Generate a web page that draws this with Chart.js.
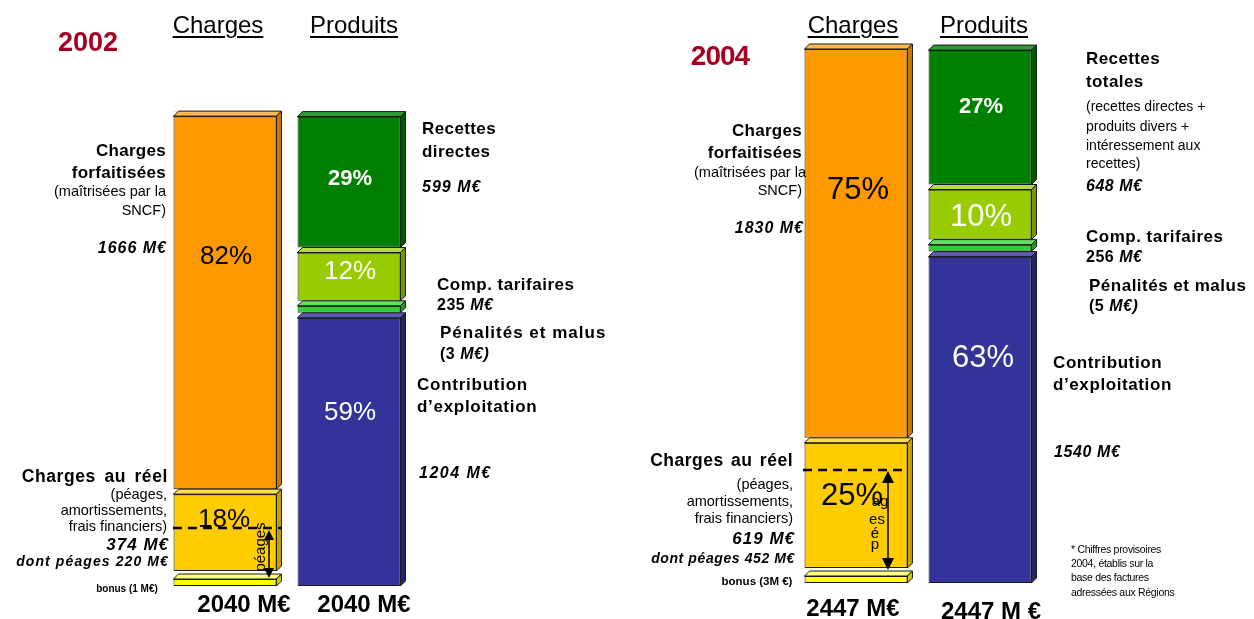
<!DOCTYPE html>
<html><head><meta charset="utf-8">
<script src="https://cdn.jsdelivr.net/npm/chart.js@4.4.1/dist/chart.umd.min.js"></script>
<style>
html,body{margin:0;padding:0;background:#fff;}
#wrap{position:relative;width:1254px;height:619px;overflow:hidden;font-family:"Liberation Sans",Arial,sans-serif;}
canvas{position:absolute;left:0;top:0;}
svg{position:absolute;left:0;top:0;}
.t{position:absolute;white-space:nowrap;line-height:1;color:#000;}
</style></head>
<body><div id="wrap">
<canvas id="c2002" width="1254" height="619"></canvas>
<canvas id="c2004" width="1254" height="619"></canvas>
<svg width="1254" height="619" viewBox="0 0 1254 619">
  <line x1="173" y1="528" x2="281" y2="528" stroke="#000" stroke-width="2.5" stroke-dasharray="9,6"/>
  <line x1="269" y1="536" x2="269" y2="572" stroke="#000" stroke-width="1.5"/>
  <polygon points="269,530 264,540 274,540" fill="#000"/>
  <polygon points="269,578 264,568 274,568" fill="#000"/>
  <text x="259" y="547" font-family="Liberation Sans, Arial" font-size="15" text-anchor="middle" dominant-baseline="central" transform="rotate(-90 259 547)">péages</text>
  <line x1="803" y1="470" x2="906" y2="470" stroke="#000" stroke-width="2.5" stroke-dasharray="9,6"/>
  <line x1="888" y1="478" x2="888" y2="562" stroke="#000" stroke-width="1.5"/>
  <polygon points="888,471 882,483 894,483" fill="#000"/>
  <polygon points="888,570 882,558 894,558" fill="#000"/>
</svg>
</div>
<script>
// ---- data (M€) ----
const years = ['2002', '2004'];
const barLabels = ['Charges', 'Produits'];
const chargesBonus = [1, 3];
const chargesReel = [374, 619];
const chargesForfait = [1666, 1830];
const produitsContribution = [1204, 1540];
const produitsPenalites = [3, 5];
const produitsComp = [235, 256];
const produitsRecettes = [599, 648];
const totalCharges = [2040, 2447];
const totalProduits = [2040, 2447];
const pctForfait = ['82%', '75%'];
const pctReel = ['18%', '25%'];
const pctRecettes = ['29%', '27%'];
const pctComp = ['12%', '10%'];
const pctContribution = ['59%', '63%'];
const peagesReel = [220, 452];

// ---- styles ----
const segStyles = {
  bonus:   {front:'#FFFF00', top:'#FFFF80', side:'#CCCC00'},
  reel:    {front:'#FFCC00', top:'#FFDB4D', side:'#C9A000', gapBelow:3},
  forfait: {front:'#FF9900', top:'#FFB84D', side:'#C87800'},
  contrib: {front:'#333399', top:'#5B5BB0', side:'#24246E'},
  penal:   {front:'#33CC33', top:'#66DD66', side:'#249924'},
  comp:    {front:'#99CC00', top:'#B5DD40', side:'#739900'},
  recettes:{front:'#008000', top:'#339933', side:'#005A00'}
};
const DEPTH = 5;

const bar3d = {
  id: 'bar3d',
  afterDatasetDraw(chart, args) {
    const ds = chart.data.datasets[args.index];
    const st = segStyles[ds.seg];
    const ctx = chart.ctx;
    args.meta.data.forEach((el, i) => {
      const v = ds.data[i];
      if (v === null || v === undefined) return;
      const p = el.getProps(['x', 'y', 'base', 'width'], true);
      const l = p.x - p.width / 2, r = p.x + p.width / 2, d = DEPTH;
      const top = Math.min(p.y, p.base);
      let bot = Math.max(p.y, p.base);
      ctx.save();
      ctx.fillStyle = '#fff';
      ctx.fillRect(l - 1, top, r - l + 2, d);
      if (st.gapBelow) {
        ctx.fillRect(l - 1, bot - st.gapBelow, r - l + d + 2, st.gapBelow + 0.5);
        bot -= st.gapBelow;
      }
      ctx.lineWidth = 1;
      ctx.strokeStyle = '#1a1a1a';
      ctx.lineJoin = 'round';
      ctx.beginPath();
      ctx.moveTo(l, top + d); ctx.lineTo(l + d, top); ctx.lineTo(r + d, top); ctx.lineTo(r, top + d); ctx.closePath();
      ctx.fillStyle = st.top; ctx.fill(); ctx.stroke();
      ctx.beginPath();
      ctx.moveTo(r, top + d); ctx.lineTo(r + d, top); ctx.lineTo(r + d, bot - d); ctx.lineTo(r, bot); ctx.closePath();
      ctx.fillStyle = st.side; ctx.fill(); ctx.stroke();
      ctx.beginPath(); ctx.moveTo(l, top + d + 0.5); ctx.lineTo(r, top + d + 0.5); ctx.stroke();
      if (st.gapBelow) {
        ctx.beginPath(); ctx.moveTo(l + 0.5, bot - 0.5); ctx.lineTo(r, bot - 0.5); ctx.stroke();
      }
      ctx.restore();
    });
  }
};

function ds(seg, data, minLen) {
  const o = {seg, data, backgroundColor: segStyles[seg].front, borderColor: '#1a1a1a',
    borderWidth: 1, borderSkipped: false, clip: false};
  if (minLen) o.minBarLength = minLen;
  return o;
}

function makeChart(id, i, area, yMax) {
  new Chart(document.getElementById(id), {
    type: 'bar',
    data: {
      labels: barLabels,
      datasets: [
        ds('bonus', [chargesBonus[i], null], 12),
        ds('reel', [chargesReel[i], null]),
        ds('forfait', [chargesForfait[i], null]),
        ds('contrib', [null, produitsContribution[i]]),
        ds('penal', [null, produitsPenalites[i]], 12),
        ds('comp', [null, produitsComp[i]]),
        ds('recettes', [null, produitsRecettes[i]])
      ]
    },
    options: {
      responsive: false, animation: false, devicePixelRatio: 1,
      events: [],
      categoryPercentage: 1, barPercentage: 0.83,
      layout: {padding: {left: area.l, right: 1254 - area.r, top: area.t, bottom: 619 - area.b}},
      plugins: {legend: {display: false}, tooltip: {enabled: false}},
      scales: {
        x: {stacked: true, display: false},
        y: {stacked: true, display: false, min: 0, max: yMax}
      }
    },
    plugins: [bar3d]
  });
}
makeChart('c2002', 0, {l: 163, r: 411, t: 109.5, b: 586}, 2100);
makeChart('c2004', 1, {l: 794, r: 1042, t: 23.5, b: 583}, 2600);

// ---- text ----
const wrap = document.getElementById('wrap');
function T(txt, x, y, o) {
  o = o || {};
  const d = document.createElement('div');
  d.className = 't';
  if (o.html) d.innerHTML = txt; else d.textContent = txt;
  d.style.left = x + 'px';
  d.style.top = y + 'px';
  const a = o.a || 'l';
  const tx = a === 'r' ? '-100%' : a === 'c' ? '-50%' : '0';
  d.style.transform = 'translate(' + tx + ',-50%)';
  d.style.fontSize = (o.s || 14) + 'px';
  if (o.b) d.style.fontWeight = 'bold';
  if (o.i) d.style.fontStyle = 'italic';
  if (o.c) d.style.color = o.c;
  if (o.ls !== undefined) d.style.letterSpacing = o.ls + 'px';
  if (o.ws !== undefined) d.style.wordSpacing = o.ws + 'px';
  if (o.u) { d.style.textDecoration = 'underline'; d.style.textUnderlineOffset = '3px'; d.style.textDecorationThickness = '1.5px'; }
  wrap.appendChild(d);
  return d;
}
const RED = '#A50021';
const me = ' M€';
const SUB = 14.5;

// 2002
T(years[0], 88, 42, {a:'c', s:27, b:1, c:RED});
T(barLabels[0], 218, 25, {a:'c', s:24, u:1});
T(barLabels[1], 354, 25, {a:'c', s:24, u:1});
T('Charges', 166, 150, {a:'r', s:17, b:1, ls:0.3});
T('forfaitisées', 166, 172, {a:'r', s:17, b:1, ls:0.3});
T('(maîtrisées par la', 166, 191, {a:'r', s:SUB});
T('SNCF)', 166, 210, {a:'r', s:SUB});
T(chargesForfait[0] + me, 167, 248, {a:'r', s:16, b:1, i:1, ls:1});
T('Charges au réel', 168, 477, {a:'r', s:17.5, b:1, ls:0.6, ws:3});
T('(péages,', 167, 494, {a:'r', s:SUB});
T('amortissements,', 167, 510, {a:'r', s:SUB});
T('frais financiers)', 167, 526, {a:'r', s:SUB});
T(chargesReel[0] + me, 169, 544, {a:'r', s:17, b:1, i:1, ls:1});
T('dont péages ' + peagesReel[0] + me, 169, 561, {a:'r', s:14, b:1, i:1, ls:1.1});
T('bonus (' + chargesBonus[0] + ' M€)', 127, 589, {a:'c', s:10, b:1});
T(pctForfait[0], 226, 255, {a:'c', s:26});
T(pctReel[0], 224, 518, {a:'c', s:26});
T(pctRecettes[0], 350, 178, {a:'c', s:22, b:1, c:'#fff'});
T(pctComp[0], 350, 270, {a:'c', s:26, c:'#fff'});
T(pctContribution[0], 350, 411, {a:'c', s:26, c:'#fff'});
T('Recettes', 422, 128, {s:17, b:1, ls:0.4});
T('directes', 422, 151, {s:17, b:1, ls:0.4});
T(produitsRecettes[0] + me, 422, 187, {s:16, b:1, i:1, ls:1});
T('Comp. tarifaires', 437, 284, {s:17, b:1, ls:0.5});
T(produitsComp[0] + ' <i>M€</i>', 437, 305, {s:16, b:1, html:1, ls:0.5});
T('Pénalités et malus', 440, 332, {s:17, b:1, ls:1});
T('(' + produitsPenalites[0] + ' <i>M€)</i>', 440, 354, {s:16, b:1, html:1, ls:0.5});
T('Contribution', 417, 384, {s:17, b:1, ls:0.75});
T('d’exploitation', 417, 406, {s:17, b:1, ls:0.7});
T(produitsContribution[0] + me, 419, 473, {s:16, b:1, i:1, ls:1.5});
T(totalCharges[0] + me, 244, 604, {a:'c', s:24, b:1});
T(totalProduits[0] + me, 364, 604, {a:'c', s:24, b:1});

// 2004
T(years[1], 720, 56, {a:'c', s:28, b:1, c:RED, ls:-1});
T(barLabels[0], 853, 25, {a:'c', s:24, u:1});
T(barLabels[1], 984, 25, {a:'c', s:24, u:1});
T('Charges', 802, 130, {a:'r', s:17, b:1, ls:0.3});
T('forfaitisées', 802, 152, {a:'r', s:17, b:1, ls:0.3});
T('(maîtrisées par la', 806, 172, {a:'r', s:SUB});
T('SNCF)', 802, 190, {a:'r', s:SUB});
T(chargesForfait[1] + me, 804, 228, {a:'r', s:16, b:1, i:1, ls:1});
T('Charges au réel', 793, 461, {a:'r', s:17.5, b:1, ls:0.5, ws:2});
T('(péages,', 793, 484, {a:'r', s:SUB});
T('amortissements,', 793, 501, {a:'r', s:SUB});
T('frais financiers)', 793, 518, {a:'r', s:SUB});
T(chargesReel[1] + me, 795, 538, {a:'r', s:17, b:1, i:1, ls:1});
T('dont péages ' + peagesReel[1] + me, 795, 558, {a:'r', s:14, b:1, i:1, ls:0.6});
T('bonus (' + chargesBonus[1] + 'M €)', 757, 582, {a:'c', s:11.5, b:1});
T(pctForfait[1], 858, 188, {a:'c', s:31});
T(pctReel[1], 852, 494, {a:'c', s:31});
T('ag', 880, 500, {a:'c', s:15});
T('es', 877, 518, {a:'c', s:15});
T('é', 875, 532, {a:'c', s:15});
T('p', 875, 543, {a:'c', s:15});
T(pctRecettes[1], 981, 106, {a:'c', s:22, b:1, c:'#fff'});
T(pctComp[1], 981, 215, {a:'c', s:31, c:'#fff'});
T(pctContribution[1], 983, 356, {a:'c', s:31, c:'#fff'});
T('Recettes', 1086, 58, {s:17, b:1, ls:0.4});
T('totales', 1086, 81, {s:17, b:1, ls:0.4});
T('(recettes directes +', 1086, 106, {s:14});
T('produits divers +', 1086, 126, {s:14});
T('intéressement aux', 1086, 145, {s:14});
T('recettes)', 1086, 163, {s:14});
T(produitsRecettes[1] + me, 1086, 186, {s:16, b:1, i:1, ls:0.5});
T('Comp. tarifaires', 1086, 236, {s:17, b:1, ls:0.5});
T(produitsComp[1] + ' <i>M€</i>', 1086, 257, {s:16, b:1, html:1, ls:0.5});
T('Pénalités et malus', 1089, 285, {s:17, b:1, ls:0.5});
T('(' + produitsPenalites[1] + ' <i>M€)</i>', 1089, 306, {s:16, b:1, html:1, ls:0.5});
T('Contribution', 1053, 362, {s:17, b:1, ls:0.6});
T('d’exploitation', 1053, 384, {s:17, b:1, ls:0.6});
T(produitsContribution[1] + me, 1054, 452, {s:16, b:1, i:1, ls:0.6});
T(totalCharges[1] + me, 853, 608, {a:'c', s:24, b:1});
T(totalProduits[1] + ' M €', 991, 611, {a:'c', s:24, b:1});
T('* Chiffres provisoires', 1071, 549, {s:10.5, ls:-0.3});
T('2004, établis sur la', 1071, 563, {s:10.5, ls:-0.3});
T('base des factures', 1071, 577, {s:10.5, ls:-0.3});
T('adressées aux Régions', 1071, 592, {s:10.5, ls:-0.3});
</script>
</body></html>
